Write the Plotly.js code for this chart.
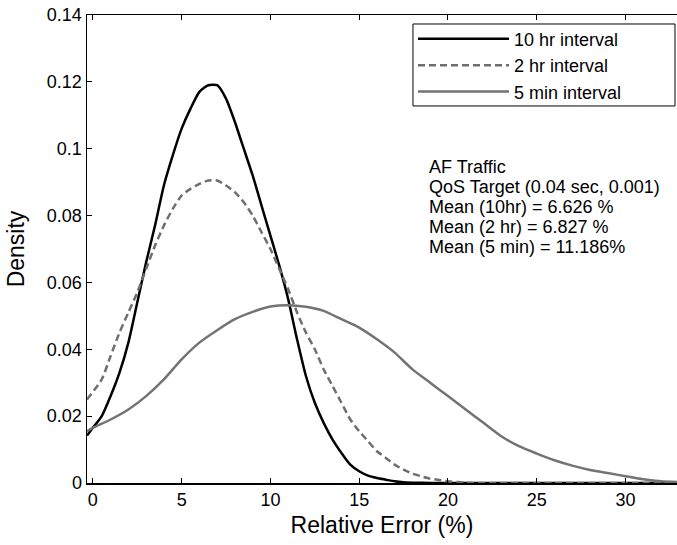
<!DOCTYPE html>
<html>
<head>
<meta charset="utf-8">
<script src="https://cdn.plot.ly/plotly-3.0.1.min.js"></script>
<style>html,body{margin:0;padding:0;background:#fff;}#chart{width:677px;height:545px;}</style>
</head>
<body>
<div id="chart"></div>
<script>
// Relative error (%) sample positions and estimated densities
var x10hr = [-0.33, 0, 0.5, 1.0, 1.5, 2.0, 2.5, 3.0, 3.5, 4.0, 4.5, 5.0, 5.5, 6.0, 6.5, 7.0, 7.5, 8.0, 8.5, 9.0, 9.5, 10.0, 10.5, 11.0, 11.5, 12.0, 12.5, 13.0, 13.5, 14.0, 14.5, 15.0, 15.5, 16.0, 16.5, 17.0, 17.5, 18.0, 19.0, 21.0, 25.0, 29.0, 33.0];
var y10hr = [0.0142, 0.0165, 0.020, 0.026, 0.033, 0.042, 0.054, 0.066, 0.077, 0.089, 0.098, 0.106, 0.112, 0.117, 0.119, 0.119, 0.115, 0.108, 0.100, 0.092, 0.083, 0.074, 0.065, 0.055, 0.043, 0.032, 0.024, 0.018, 0.013, 0.009, 0.0055, 0.0035, 0.0022, 0.0015, 0.001, 0.0005, 0.0002, 0.0001, 0, 0, 0, 0, 0];

var x2hr = [-0.33, 0.5, 1.0, 1.5, 2.0, 2.5, 3.0, 3.5, 4.0, 4.5, 5.0, 5.5, 6.0, 6.5, 7.0, 7.5, 8.0, 8.5, 9.0, 9.5, 10.0, 10.5, 11.0, 11.5, 12.0, 12.5, 13.0, 13.5, 14.0, 14.5, 15.0, 15.5, 16.0, 16.5, 17.0, 17.5, 18.0, 18.5, 19.0, 19.5, 20.0, 20.5, 21.0, 22.0, 26.0, 30.0, 33.0];
var y2hr = [0.025, 0.031, 0.038, 0.045, 0.051, 0.057, 0.064, 0.071, 0.077, 0.082, 0.086, 0.088, 0.0895, 0.0905, 0.0905, 0.089, 0.087, 0.084, 0.080, 0.075, 0.070, 0.064, 0.058, 0.051, 0.045, 0.040, 0.034, 0.029, 0.024, 0.019, 0.0155, 0.0125, 0.0095, 0.0075, 0.0055, 0.004, 0.0028, 0.002, 0.0013, 0.0009, 0.0005, 0.0003, 0.0001, 0, 0, 0, 0];

var x5min = [-0.33, 0, 1, 2, 3, 4, 5, 6, 7, 8, 9, 10, 11, 12, 13, 14, 15, 16, 17, 18, 19, 20, 21, 22, 23, 24, 25, 26, 27, 28, 29, 30, 31, 32, 33];
var y5min = [0.0155, 0.0165, 0.019, 0.022, 0.026, 0.031, 0.037, 0.042, 0.0457, 0.049, 0.0512, 0.0528, 0.0532, 0.0527, 0.0515, 0.049, 0.0465, 0.043, 0.039, 0.034, 0.030, 0.026, 0.022, 0.018, 0.014, 0.011, 0.0088, 0.0068, 0.0052, 0.0039, 0.003, 0.002, 0.0011, 0.0005, 0.0003];

var seriesNames = ['10 hr interval', '2 hr interval', '5 min interval'];
var infoLines = ['AF Traffic', 'QoS Target (0.04 sec, 0.001)', 'Mean (10hr) = 6.626 %', 'Mean (2 hr) = 6.827 %', 'Mean (5 min) = 11.186%'];

var FONT = 'Liberation Sans, Arial, Helvetica, sans-serif';

var traces = [
  {x: x10hr, y: y10hr, name: seriesNames[0], type: 'scatter', mode: 'lines',
   line: {color: '#000000', width: 2.5, shape: 'spline', smoothing: 0.6}},
  {x: x2hr, y: y2hr, name: seriesNames[1], type: 'scatter', mode: 'lines',
   line: {color: '#6f6f6f', width: 2.5, dash: '7px,4px', shape: 'spline', smoothing: 0.6}},
  {x: x5min, y: y5min, name: seriesNames[2], type: 'scatter', mode: 'lines',
   line: {color: '#737373', width: 2.5, shape: 'spline', smoothing: 0.6}}
];

// info text block: one annotation per line, 20px apart
var plotTop = 15, plotBottom = 483, firstLineY = 167, lineGap = 20;
var annotations = infoLines.map(function (t, i) {
  return {
    xref: 'paper', yref: 'paper', x: 0.576,
    y: (plotBottom - (firstLineY + i * lineGap)) / (plotBottom - plotTop),
    xanchor: 'left', yanchor: 'middle', align: 'left', showarrow: false,
    text: t, font: {family: FONT, size: 18, color: '#000'}
  };
});

var layout = {
  width: 677, height: 545,
  margin: {l: 87, r: 0, t: 15, b: 62},
  paper_bgcolor: '#ffffff', plot_bgcolor: '#ffffff',
  font: {family: FONT, size: 18, color: '#000'},
  showlegend: true,
  legend: {
    x: 0.5525, y: 0.988, xanchor: 'left', yanchor: 'top',
    bgcolor: 'rgba(0,0,0,0)', borderwidth: 0,
    font: {family: FONT, size: 18, color: '#000'},
    itemwidth: 91
  },
  shapes: [{
    type: 'rect', xref: 'paper', yref: 'paper', layer: 'below',
    x0: 0.5525, x1: 0.9966, y0: 0.8056, y1: 0.9808,
    line: {color: '#000', width: 1}, fillcolor: '#ffffff'
  }],
  xaxis: {
    range: [-0.33, 32.9], tickvals: [0, 5, 10, 15, 20, 25, 30],
    ticks: 'inside', ticklen: 5, tickwidth: 1, tickcolor: '#000',
    showline: true, linecolor: '#000', linewidth: 1.5, mirror: 'ticks',
    showgrid: false, zeroline: false,
    tickfont: {family: FONT, size: 18, color: '#000'},
    title: {text: 'Relative Error (%)', font: {family: FONT, size: 23, color: '#000'}, standoff: 8}
  },
  yaxis: {
    range: [0, 0.14], dtick: 0.02, tick0: 0,
    ticks: 'inside', ticklen: 5, tickwidth: 1, tickcolor: '#000',
    showline: true, linecolor: '#000', linewidth: 1.5, mirror: false,
    showgrid: false, zeroline: false,
    tickfont: {family: FONT, size: 18, color: '#000'},
    title: {text: 'Density', font: {family: FONT, size: 23, color: '#000'}, standoff: 16}
  },
  annotations: annotations
};

Plotly.newPlot('chart', traces, layout, {displayModeBar: false, staticPlot: true});
</script>
</body>
</html>
